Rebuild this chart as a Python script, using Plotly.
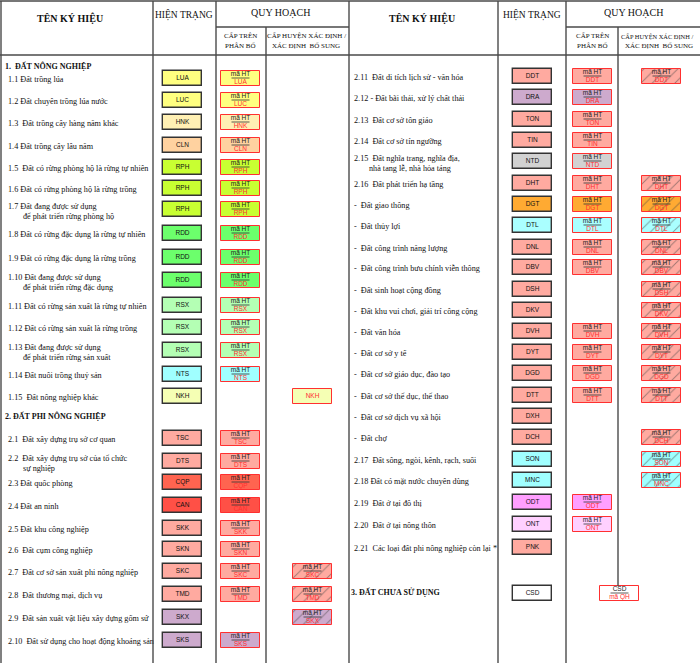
"""
Legend table for the land-use map: one row per land category, with the
current-state symbol (HIỆN TRẠNG) and the planning symbols (QUY HOẠCH).
Drawn on a 700x663 pixel canvas: the axes run 1 unit = 1 pixel.
"""

import plotly.graph_objects as go

# ── data: left panel ─────────────────────────────────────────────────────────
LEFT_NAMES = [
    "1.1 Đất trồng lúa",
    "1.2 Đất chuyên trồng lúa nước",
    "1.3  Đất trồng cây hàng năm khác",
    "1.4 Đất trồng cây lâu năm",
    "1.5  Đất có rừng phòng hộ là rừng tự nhiên",
    "1.6 Đất có rừng phòng hộ là rừng trồng",
    "1.7 Đất đang được sử dụng|để phát triển rừng phòng hộ",
    "1.8 Đất có rừng đặc dụng là rừng tự nhiên",
    "1.9 Đất có rừng đặc dụng là rừng trồng",
    "1.10 Đất đang được sử dụng|để phát triển rừng đặc dụng",
    "1.11 Đất có rừng sản xuất là rừng tự nhiên",
    "1.12 Đất có rừng sản xuất là rừng trồng",
    "1.13 Đất đang được sử dụng|để phát triển rừng sản xuất",
    "1.14 Đất nuôi trồng thuỷ sản",
    "1.15  Đất nông nghiệp khác",
    "2.1  Đất xây dựng trụ sở cơ quan",
    "2.2  Đất xây dựng trụ sở của tổ chức|sự nghiệp",
    "2.3 Đất quốc phòng",
    "2.4 Đất an ninh",
    "2.5 Đất khu công nghiệp",
    "2.6  Đất cụm công nghiệp",
    "2.7  Đất cơ sở sản xuất phi nông nghiệp",
    "2.8  Đất thương mại, dịch vụ",
    "2.9  Đất sản xuất vật liệu xây dựng gốm sứ",
    "2.10  Đất sử dụng cho hoạt động khoáng sản",
]
LEFT_CODES = ["LUA", "LUC", "HNK", "CLN", "RPH", "RPH", "RPH", "RDD", "RDD", "RDD",
              "RSX", "RSX", "RSX", "NTS", "NKH", "TSC", "DTS", "CQP", "CAN", "SKK",
              "SKN", "SKC", "TMD", "SKX", "SKS"]
LEFT_FILLS = ["#FFFF80", "#FFFF80", "#FFF0B4", "#FFD2A0", "#C8FF32", "#C8FF32", "#C8FF32",
              "#6CFF6C", "#6CFF6C", "#6CFF6C", "#B4FFB4", "#B4FFB4", "#B4FFB4", "#A0FFFF",
              "#F5FFB4", "#FFAAA0", "#FFAAA0", "#FF6450", "#FF5046", "#FFAAA0", "#FFAAA0",
              "#FFAAA0", "#FFAAA0", "#CDAACD", "#CDAACD"]
LEFT_QH = [1] * 14 + [0] + [1] * 8 + [0, 1]
LEFT_HUYEN = [""] * 14 + ["plain"] + [""] * 6 + ["hatch", "hatch", "hatch", ""]

# ── data: right panel ────────────────────────────────────────────────────────
RIGHT_NAMES = [
    "2.11  Đất di tích lịch sử - văn hóa",
    "2.12 - Đất bãi thải, xử lý chất thải",
    "2.13  Đất cơ sở tôn giáo",
    "2.14  Đất cơ sở tín ngưỡng",
    "2.15  Đất nghĩa trang, nghĩa địa,|nhà tang lễ, nhà hỏa táng",
    "2.16  Đất phát triển hạ tầng",
    "-  Đất giao thông",
    "-  Đất thủy lợi",
    "-  Đất công trình năng lượng",
    "-  Đất công trình bưu chính viễn thông",
    "-  Đất sinh hoạt cộng đồng",
    "-  Đất khu vui chơi, giải trí công cộng",
    "-  Đất văn hóa",
    "-  Đất cơ sở y tế",
    "-  Đất cơ sở giáo dục, đào tạo",
    "-  Đất cơ sở thể dục, thể thao",
    "-  Đất cơ sở dịch vụ xã hội",
    "-  Đất chợ",
    "2.17  Đất sông, ngòi, kênh, rạch, suối",
    "2.18 Đất có mặt nước chuyên dùng",
    "2.19  Đất ở tại đô thị",
    "2.20  Đất ở tại nông thôn",
    "2.21  Các loại đất phi nông nghiệp còn lại *",
]
RIGHT_CODES = ["DDT", "DRA", "TON", "TIN", "NTD", "DHT", "DGT", "DTL", "DNL", "DBV",
               "DSH", "DKV", "DVH", "DYT", "DGD", "DTT", "DXH", "DCH", "SON", "MNC",
               "ODT", "ONT", "PNK"]
RIGHT_FILLS = ["#FFAAA0", "#CDAACD", "#FFAAA0", "#FFAAA0", "#D2D2D2", "#FFAAA0", "#FFAA32",
               "#AAFFFF", "#FFAAA0", "#FFAAA0", "#FFAAA0", "#FFAAA0", "#FFAAA0", "#FFAAA0",
               "#FFAAA0", "#FFAAA0", "#FFAAA0", "#FFAAA0", "#A0FFFF", "#A0FFFF", "#FF9FFF",
               "#FFD0FF", "#FFAAA0"]
RIGHT_QH = [1, 1, 1, 1, 1, 1, 1, 1, 1, 1, 0, 0, 1, 1, 1, 1, 0, 0, 0, 0, 1, 1, 0]
RIGHT_HUYEN = ["hatch", "", "", "", "", "hatch", "hatch", "hatch", "hatch", "hatch",
               "hatch", "hatch", "hatch", "hatch", "hatch", "hatch", "", "hatch", "hatch",
               "hatch", "", "", ""]

SECTIONS = ["1.  ĐẤT NÔNG NGHIỆP", "2. ĐẤT PHI NÔNG NGHIỆP", "3. ĐẤT CHƯA SỬ DỤNG"]
UNUSED_CODE = "CSD"
UNUSED_FILL = "#FFFFFF"
UNUSED_QH = ["CSD", "mã QH"]
QH_TOP = "mã HT"

# ── layout (pixels) ──────────────────────────────────────────────────────────
W, H = 700, 663
LEFT_ROW_Y = [78, 100, 122, 145, 167, 188, 209, 233, 257, 280, 305, 327, 350, 374, 396,
              438, 461, 482, 505, 528, 549, 571, 594, 617, 640]
RIGHT_ROW_Y = [76, 97, 119, 140, 161, 183, 204, 225, 247, 267, 289, 310, 331, 352, 373,
               395, 416, 437, 459, 480, 502, 524, 547]
SECTION_POS = [(5, 67), (5, 417), (351, 593)]
UNUSED_Y = 593
UNUSED_QH_X = (600, 639)

LEFT = dict(name=8, ht=(163, 202), qh=(221, 260), huyen=(293, 332))
RIGHT = dict(name=354, ht=(513, 552), qh=(573, 612), huyen=(642, 681))
BOX_H = 15
INDENT = 15

GRID = "#4a4a4a"
RED = "#FF3030"
SERIF = "Liberation Serif, Times New Roman, serif"
SANS = "Liberation Sans, Arial, sans-serif"


def boxes(x0, x1, ys, fills, line_color, line_width, hatch=False):
    n = len(ys)
    return go.Bar(
        orientation="h", y=ys, x=[x1 - x0] * n, base=[x0] * n, width=BOX_H,
        marker=dict(
            color=fills, line=dict(color=line_color, width=line_width),
            pattern=dict(shape="/" if hatch else "", fgcolor=RED, fillmode="overlay",
                         size=8, solidity=0.12),
        ),
        hoverinfo="skip", showlegend=False,
    )


def texts(xs, ys, labels, color, size, family=SANS, pos="middle center"):
    return go.Scatter(
        x=xs, y=ys, text=labels, mode="text", textposition=pos,
        textfont=dict(color=color, size=size, family=family),
        hoverinfo="skip", showlegend=False,
    )


def fraction(x0, x1, ys, top_labels, bottom_labels):
    """Two-line 'mã HT / CODE' label with a short rule between the lines."""
    cx = (x0 + x1) / 2
    lx, ly = [], []
    for y in ys:
        lx += [cx - 9, cx + 9, None]
        ly += [y, y, None]
    return [
        texts([cx] * len(ys), [y - 3.5 for y in ys], top_labels, "#222", 6.5),
        texts([cx] * len(ys), [y + 4 for y in ys], bottom_labels, RED, 6.5),
        go.Scatter(x=lx, y=ly, mode="lines", line=dict(color="#333", width=0.8),
                   hoverinfo="skip", showlegend=False),
    ]


def panel(cols, names, codes, fills, qh, huyen, row_y):
    traces = []
    # names (continuation lines are indented)
    nx, ny, nt = [], [], []
    for name, y in zip(names, row_y):
        parts = name.split("|")
        if len(parts) == 1:
            nx.append(cols["name"]); ny.append(y + 2); nt.append(parts[0])
        else:
            nx += [cols["name"], cols["name"] + INDENT]
            ny += [y - 2, y + 8]
            nt += parts
    traces.append(texts(nx, ny, nt, "#111", 8.2, SERIF, "middle right"))

    # current state
    x0, x1 = cols["ht"]
    traces.append(boxes(x0, x1, row_y, fills, "#333333", 1.4))
    traces.append(texts([(x0 + x1) / 2] * len(row_y), row_y, codes, "#111", 6.5))

    # planned, upper level
    idx = [i for i, v in enumerate(qh) if v]
    x0, x1 = cols["qh"]
    ys = [row_y[i] for i in idx]
    traces.append(boxes(x0, x1, ys, [fills[i] for i in idx], RED, 1))
    traces += fraction(x0, x1, ys, [QH_TOP] * len(idx), [codes[i] for i in idx])

    # planned, district level
    x0, x1 = cols["huyen"]
    plain = [i for i, v in enumerate(huyen) if v == "plain"]
    if plain:
        ys = [row_y[i] for i in plain]
        traces.append(boxes(x0, x1, ys, [fills[i] for i in plain], RED, 1))
        traces.append(texts([(x0 + x1) / 2] * len(plain), ys,
                            [codes[i] for i in plain], RED, 6.5))
    hatch = [i for i, v in enumerate(huyen) if v == "hatch"]
    if hatch:
        ys = [row_y[i] for i in hatch]
        traces.append(boxes(x0, x1, ys, [fills[i] for i in hatch], RED, 1, hatch=True))
        traces += fraction(x0, x1, ys, [QH_TOP] * len(hatch), [codes[i] for i in hatch])
    return traces


fig = go.Figure()
for t in panel(LEFT, LEFT_NAMES, LEFT_CODES, LEFT_FILLS, LEFT_QH, LEFT_HUYEN, LEFT_ROW_Y):
    fig.add_trace(t)
for t in panel(RIGHT, RIGHT_NAMES, RIGHT_CODES, RIGHT_FILLS, RIGHT_QH, RIGHT_HUYEN, RIGHT_ROW_Y):
    fig.add_trace(t)

# unused land row
x0, x1 = RIGHT["ht"]
fig.add_trace(boxes(x0, x1, [UNUSED_Y], [UNUSED_FILL], "#333333", 1.4))
fig.add_trace(texts([(x0 + x1) / 2], [UNUSED_Y], [UNUSED_CODE], "#111", 6.5))
x0, x1 = UNUSED_QH_X
fig.add_trace(boxes(x0, x1, [UNUSED_Y], [UNUSED_FILL], RED, 1))
for t in fraction(x0, x1, [UNUSED_Y], [UNUSED_QH[0]], [UNUSED_QH[1]]):
    fig.add_trace(t)

# section headings
fig.add_trace(texts([p[0] for p in SECTION_POS], [p[1] for p in SECTION_POS],
                    ["<b>" + s + "</b>" for s in SECTIONS], "#111", 8, SERIF, "middle right"))

# ── grid lines ───────────────────────────────────────────────────────────────
shapes = []
def vline(x, y0, y1):
    shapes.append(dict(type="line", x0=x, x1=x, y0=y0, y1=y1, line=dict(color=GRID, width=1.4)))
def hline(y, x0, x1):
    shapes.append(dict(type="line", x0=x0, x1=x1, y0=y, y1=y, line=dict(color=GRID, width=1.4)))

hline(1, 0, W)
hline(55, 0, W)
hline(27, 216, 349)
hline(27, 566, W)
for x in (1, 153, 216, 349, 498, 566):
    vline(x, 1, H)
vline(266, 27, H)
vline(618, 27, 586)

# ── column headers ───────────────────────────────────────────────────────────
ann = []
def label(x, y, s, size, bold=False, anchor="center"):
    ann.append(dict(x=x, y=y, text=f"<b>{s}</b>" if bold else s, showarrow=False,
                    xanchor=anchor, yanchor="middle",
                    font=dict(family=SERIF, size=size, color="#111")))

for off, (cx_name, cx_ht, cx_qh, cx_top, cx_hy) in {
    0: (70, 184, 280, 240, 306),
    1: (422, 532, 633, 592, 659),
}.items():
    label(cx_name, 18, "TÊN KÝ HIỆU", 10, bold=True)
    label(cx_ht, 15, "HIỆN TRẠNG", 9.5)
    label(cx_qh, 13, "QUY HOẠCH", 10)
    label(cx_top, 36, "CẤP TRÊN", 7)
    label(cx_top, 46, "PHÂN BỔ", 7)
    if off == 0:
        label(cx_hy, 36, "CẤP HUYỆN XÁC ĐỊNH /", 7)
    else:
        label(619, 36, "CẤP HUYỆN XÁC ĐỊNH /", 6.4, anchor="left")
    label(cx_hy, 46, "XÁC ĐỊNH  BỔ SUNG", 7)

fig.update_layout(
    width=W, height=H,
    margin=dict(l=0, r=0, t=0, b=0),
    paper_bgcolor="white", plot_bgcolor="white",
    barmode="overlay", bargap=0,
    xaxis=dict(range=[0, W], visible=False, fixedrange=True),
    yaxis=dict(range=[H, 0], visible=False, fixedrange=True),
    shapes=shapes, annotations=ann,
    showlegend=False,
)

fig.write_html("out.html", config={"displayModeBar": False},
               post_script="document.body.style.margin='0';")
